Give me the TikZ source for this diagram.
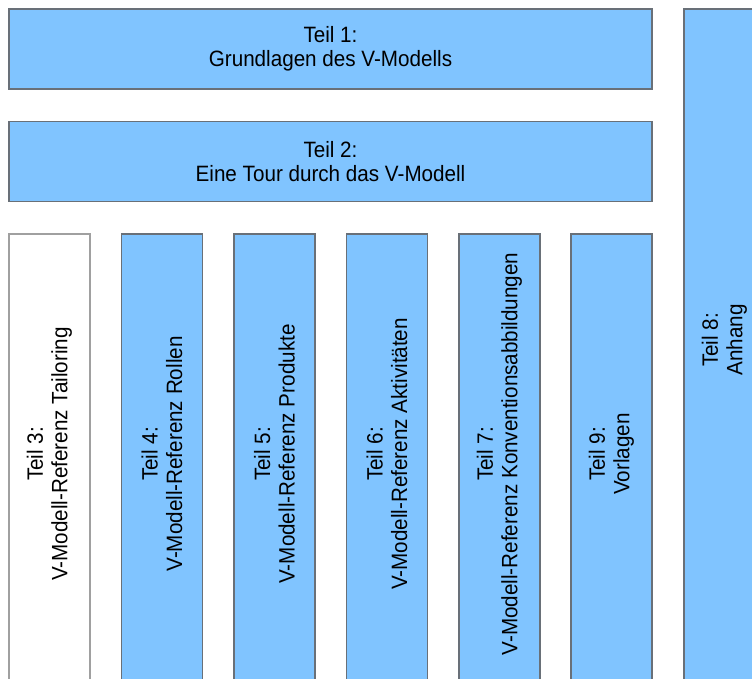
\documentclass[tikz,border=0pt]{standalone}
\usepackage{fontspec}
\setmainfont{Liberation Sans}[FakeStretch=0.93]
\definecolor{boxblue}{RGB}{128,196,255}
\definecolor{boxline}{RGB}{105,112,120}
\definecolor{plainline}{RGB}{160,160,160}
\begin{document}
\begin{tikzpicture}[x=1pt,y=-1pt,
  part/.style={draw=boxline, fill=boxblue, line width=1.2pt, inner sep=0pt, outer sep=0pt},
  plainpart/.style={draw=plainline, fill=white, line width=1.2pt, inner sep=0pt, outer sep=0pt},
  hbox/.style={part, minimum width=643pt, minimum height=80pt},
  colbox/.style={minimum width=81pt, minimum height=466pt},
  lbl/.style={align=center, font=\fontsize{22.2}{24.5}\selectfont, inner sep=0pt},
  vlbl/.style={lbl, rotate=90}]
\useasboundingbox (0,0) rectangle (752,679);
\clip (0,0) rectangle (752,679);
% horizontal parts
\node[hbox, lbl] (p1) at (330.5,49) {Teil 1:\\Grundlagen des V-Modells};
\node[hbox, lbl] (p2) at (330.5,161.5) {Teil 2:\\Eine Tour durch das V-Modell};
% columns
\node[plainpart, colbox] (c3) at (49.5,467) {};
\node[part, colbox] (c4) at (162,467) {};
\node[part, colbox] (c5) at (274.5,467) {};
\node[part, colbox] (c6) at (387,467) {};
\node[part, colbox] (c7) at (499.5,467) {};
\node[part, colbox] (c9) at (611.5,467) {};
\node[part, minimum width=81pt, minimum height=700pt] (c8) at (724.5,359) {};
% labels
\node[vlbl] (l3) at (49.5,454) {Teil 3:\\V-Modell-Referenz Tailoring};
\node[vlbl] (l4) at (162,454) {Teil 4:\\V-Modell-Referenz Rollen};
\node[vlbl] (l5) at (274.5,454) {Teil 5:\\V-Modell-Referenz Produkte};
\node[vlbl] (l6) at (387,454) {Teil 6:\\V-Modell-Referenz Aktivitäten};
\node[vlbl] (l7) at (499.5,454) {Teil 7:\\V-Modell-Referenz Konventionsabbildungen};
\node[vlbl] (l9) at (611.5,454) {Teil 9:\\Vorlagen};
\node[vlbl] (l8) at (724.5,340) {Teil 8:\\Anhang};
\end{tikzpicture}
\end{document}
